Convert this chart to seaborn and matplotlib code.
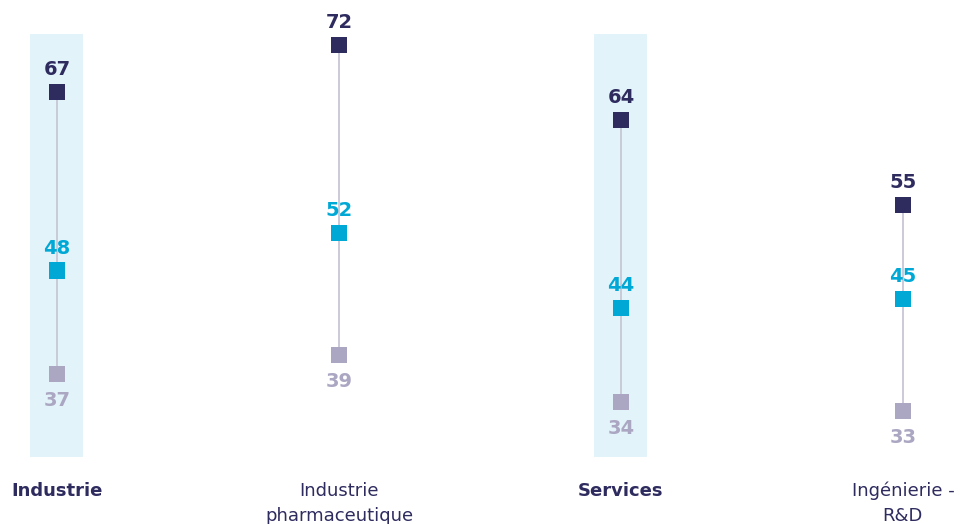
import matplotlib
matplotlib.use("Agg")
import matplotlib.pyplot as plt
import seaborn as sns
import pandas as pd

# Sector labels and the three series per sector
categories = ["Industrie", "Industrie\npharmaceutique", "Services", "Ingénierie -\nR&D"]
bold_categories = ["Industrie", "Services"]
high_values = [67, 72, 64, 55]
mid_values = [48, 52, 44, 45]
low_values = [37, 39, 34, 33]

series_names = ["haut", "milieu", "bas"]
colors = {"haut": "#2e2b5f", "milieu": "#00a8d6", "bas": "#aba7c2"}
band_color = "#e3f3fa"
stem_color = "#cacad9"
text_color = "#2e2b5f"

rows = []
for i, cat in enumerate(categories):
    for name, vals in zip(series_names, [high_values, mid_values, low_values]):
        rows.append({"pos": i, "categorie": cat, "serie": name, "valeur": vals[i]})
df = pd.DataFrame(rows)

sns.set_theme(style="white")
plt.rcParams["font.family"] = ["DejaVu Sans"]

fig = plt.figure(figsize=(9.63, 5.24), dpi=100)
ax = fig.add_axes([0, 0, 1, 1])
ax.set_xlim(-0.202, 3.213)
ax.set_ylim(21.0, 76.8)

# Highlight bands behind the bold sectors
for i, cat in enumerate(categories):
    if cat in bold_categories:
        ax.axvspan(i - 0.094, i + 0.094, ymin=0.128, ymax=0.935,
                   color=band_color, lw=0, zorder=0)

# Vertical stems linking low to high
for i in range(len(categories)):
    ax.plot([i, i], [low_values[i], high_values[i]], color=stem_color,
            lw=1.4, zorder=1, solid_capstyle="butt")

sns.scatterplot(data=df, x="pos", y="valeur", hue="serie", palette=colors,
                marker="s", s=135, linewidth=0, legend=False, ax=ax, zorder=3)

# Value labels
label_kw = dict(textcoords="offset points", ha="center", va="center",
                fontsize=14, fontweight="heavy")
for i in range(len(categories)):
    ax.annotate(f"{high_values[i]}", (i, high_values[i]), xytext=(0, 16),
                color=colors["haut"], **label_kw)
    ax.annotate(f"{mid_values[i]}", (i, mid_values[i]), xytext=(0, 16),
                color=colors["milieu"], **label_kw)
    ax.annotate(f"{low_values[i]}", (i, low_values[i]), xytext=(0, -19),
                color=colors["bas"], **label_kw)

# Sector names under the chart, one text per line
for i, cat in enumerate(categories):
    for k, line in enumerate(cat.split("\n")):
        ax.annotate(line, (i, 0.063), xycoords=ax.get_xaxis_transform(),
                    xytext=(0, -18 * k), textcoords="offset points",
                    ha="center", va="center", fontsize=13, color=text_color,
                    fontweight="heavy" if cat in bold_categories else "normal",
                    annotation_clip=False)

ax.axis("off")
fig.savefig("out.png", dpi=100)
